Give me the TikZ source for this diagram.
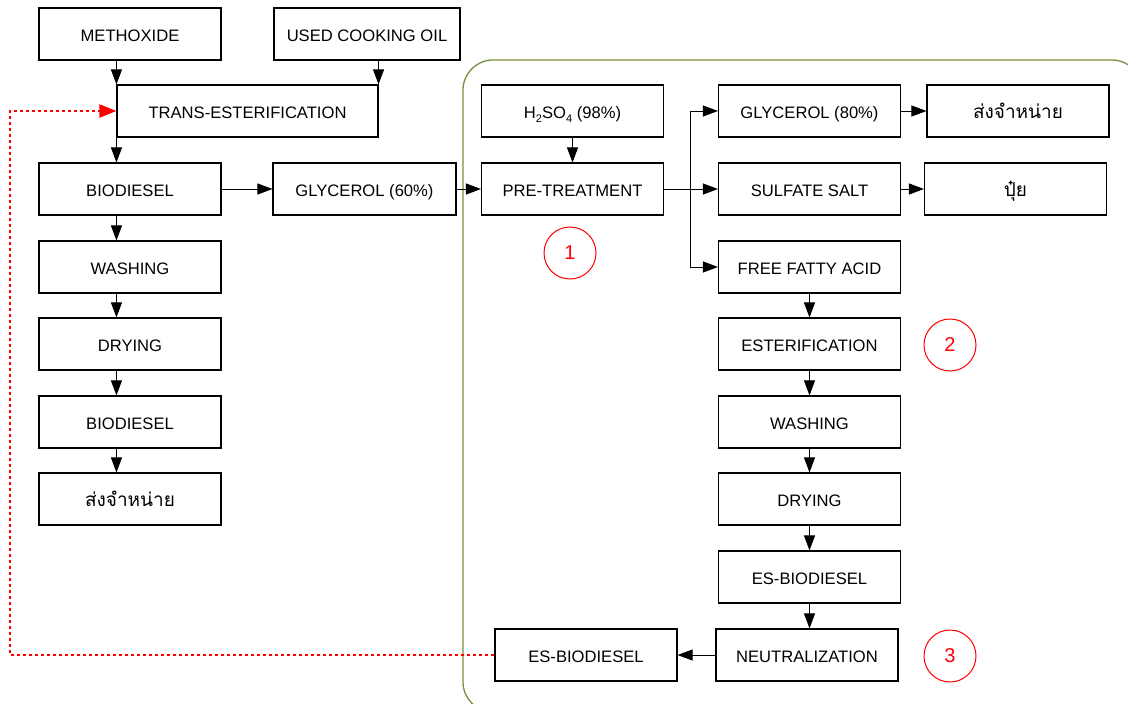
\documentclass[tikz,border=0pt]{standalone}
\usepackage{fontspec}
\setmainfont{Liberation Sans}
\newfontfamily\thaifont[Script=Thai]{Loma}
\usetikzlibrary{arrows.meta}
\definecolor{frameolive}{RGB}{118,146,60}
\newcommand{\lowsub}[1]{\raisebox{-3.5pt}{\fontsize{11}{11}\selectfont #1}}
\tikzset{
  box/.style={draw, line width=1.1pt, minimum width=182pt, minimum height=52pt, inner sep=0pt, text height=15pt, text depth=0pt, font=\fontsize{16.6}{18}\selectfont},
  thaibox/.style={box, text height=14pt, font=\thaifont\fontsize{19}{21}\selectfont},
  arr/.style={line width=0.9pt, -{Triangle[length=15pt,width=11pt]}},
  plain/.style={line width=0.9pt},
  redarr/.style={red, line width=2pt, dash pattern=on 3pt off 3pt, -{Triangle[length=17pt,width=13pt]}},
  num/.style={draw=red, text=red, circle, line width=1pt, minimum size=52pt, inner sep=0pt, font=\fontsize{20}{22}\selectfont}
}
\begin{document}
\begin{tikzpicture}[x=1pt,y=-1pt]
\useasboundingbox (0,0) rectangle (1128,704);
% green frame
\draw[frameolive, line width=1.3pt, rounded corners=30pt] (463,60) rectangle (1142,712);
% left column
\node[box] (meth) at (130,34) {METHOXIDE};
\node[box, minimum width=186pt] (uco) at (367,34) {USED COOKING OIL};
\node[box, minimum width=261pt] (trans) at (247.5,111) {TRANS-ESTERIFICATION};
\node[box] (bio1) at (130,189) {BIODIESEL};
\node[box, minimum width=183pt] (gly60) at (364.5,189) {GLYCEROL (60\%)};
\node[box] (wash1) at (130,267) {WASHING};
\node[box] (dry1) at (130,344) {DRYING};
\node[box] (bio2) at (130,422) {BIODIESEL};
\node[thaibox] (sale1) at (130,499) {ส่งจำหน่าย};
% right part
\node[box] (h2so4) at (572.5,111) {H\lowsub{2}SO\lowsub{4} (98\%)};
\node[box] (pre) at (572.5,189) {PRE-TREATMENT};
\node[num] (n1) at (570,253) {1};
\node[box] (gly80) at (809.5,111) {GLYCEROL (80\%)};
\node[thaibox] (sale2) at (1018,111) {ส่งจำหน่าย};
\node[box] (sulf) at (809.5,189) {SULFATE SALT};
\node[thaibox] (fert) at (1015.5,189) {ปุ๋ย};
\node[box] (ffa) at (809.5,267) {FREE FATTY ACID};
\node[box] (ester) at (809.5,344) {ESTERIFICATION};
\node[num] (n2) at (950,345) {2};
\node[box] (wash2) at (809.5,422) {WASHING};
\node[box] (dry2) at (809.5,499) {DRYING};
\node[box] (esb1) at (809.5,577) {ES-BIODIESEL};
\node[box] (neut) at (807,655) {NEUTRALIZATION};
\node[num] (n3) at (950,656) {3};
\node[box] (esb2) at (586,655) {ES-BIODIESEL};
% connectors left
\draw[arr] (trans.west |- meth.south) -- (trans.north west);
\draw[arr] (trans.east |- uco.south) -- (trans.north east);
\draw[arr] (trans.south west) -- (trans.south west |- bio1.north);
\draw[arr] (bio1.south -| trans.west) -- (wash1.north -| trans.west);
\draw[arr] (wash1.south -| trans.west) -- (dry1.north -| trans.west);
\draw[arr] (dry1.south -| trans.west) -- (bio2.north -| trans.west);
\draw[arr] (bio2.south -| trans.west) -- (sale1.north -| trans.west);
\draw[arr] (bio1.east) -- (gly60.west);
\draw[arr] (gly60.east) -- (pre.west);
% connectors right
\draw[arr] (h2so4.south) -- (pre.north);
\coordinate (br) at (690,189);
\draw[plain] (pre.east) -- (br);
\draw[arr] (br) |- (gly80.west);
\draw[arr] (br) -- (sulf.west);
\draw[arr] (br) |- (ffa.west);
\draw[arr] (gly80.east) -- (sale2.west);
\draw[arr] (sulf.east) -- (fert.west);
\draw[arr] (ffa.south) -- (ester.north);
\draw[arr] (ester.south) -- (wash2.north);
\draw[arr] (wash2.south) -- (dry2.north);
\draw[arr] (dry2.south) -- (esb1.north);
\draw[arr] (esb1.south) -- (esb1.south |- neut.north);
\draw[arr] (neut.west) -- (esb2.east);
% red dotted return
\coordinate (r1) at (10,655);
\coordinate (r2) at (10,111);
\draw[redarr] (esb2.west) -- (r1) -- (r2) -- (trans.west);
\end{tikzpicture}
\end{document}
